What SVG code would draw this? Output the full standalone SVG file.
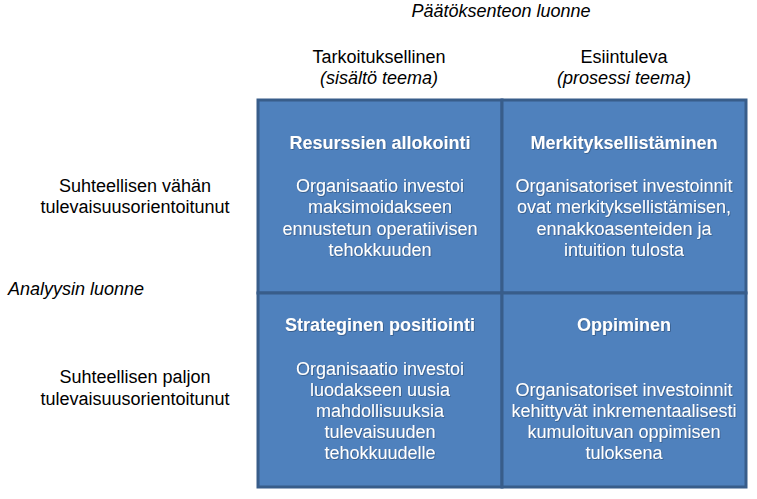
<svg xmlns="http://www.w3.org/2000/svg" width="757" height="499" viewBox="0 0 757 499">
<defs>
<filter id="sh" x="-5%" y="-20%" width="110%" height="140%">
<feDropShadow dx="0.7" dy="0.7" stdDeviation="0.3" flood-color="#1f3550" flood-opacity="0.6"/>
</filter>
<style>
text{font-family:"Liberation Sans",Arial,sans-serif;font-size:18px;}
.lab{fill:#000;text-anchor:middle;}
.it{font-style:italic;}
.cell{fill:#4F81BD;stroke:#385D8A;stroke-width:3;}
.t{fill:#fff;text-anchor:middle;font-weight:bold;filter:url(#sh);}
.b{fill:#fff;text-anchor:middle;filter:url(#sh);}
</style>
</defs>
<rect width="757" height="499" fill="#fff"/>
<g id="labels">
<text class="lab it" x="501" y="17">Päätöksenteon luonne</text>
<text class="lab" x="379" y="63">Tarkoituksellinen</text>
<text class="lab it" x="379" y="84">(sisältö teema)</text>
<text class="lab" x="624" y="63">Esiintuleva</text>
<text class="lab it" x="624" y="84">(prosessi teema)</text>
<text class="lab" x="135" y="192">Suhteellisen vähän</text>
<text class="lab" x="135" y="213">tulevaisuusorientoitunut</text>
<text class="it" x="8" y="295">Analyysin luonne</text>
<text class="lab" x="135" y="383">Suhteellisen paljon</text>
<text class="lab" x="135" y="405">tulevaisuusorientoitunut</text>
</g>
<g id="cell-resurssien">
<rect class="cell" x="258" y="100" width="244" height="193"/>
<text class="t" x="380" y="149">Resurssien allokointi</text>
<text class="b" x="380" y="192">Organisaatio investoi</text>
<text class="b" x="380" y="213">maksimoidakseen</text>
<text class="b" x="380" y="234.5">ennustetun operatiivisen</text>
<text class="b" x="380" y="256">tehokkuuden</text>
</g>
<g id="cell-merkitys">
<rect class="cell" x="502" y="100" width="244" height="193"/>
<text class="t" x="624" y="149">Merkityksellistäminen</text>
<text class="b" x="624" y="192">Organisatoriset investoinnit</text>
<text class="b" x="624" y="213">ovat merkityksellistämisen,</text>
<text class="b" x="624" y="234.5">ennakkoasenteiden ja</text>
<text class="b" x="624" y="256">intuition tulosta</text>
</g>
<g id="cell-strateginen">
<rect class="cell" x="258" y="293" width="244" height="194"/>
<text class="t" x="380" y="331">Strateginen positiointi</text>
<text class="b" x="380" y="374.5">Organisaatio investoi</text>
<text class="b" x="380" y="395.5">luodakseen uusia</text>
<text class="b" x="380" y="416.5">mahdollisuuksia</text>
<text class="b" x="380" y="437.5">tulevaisuuden</text>
<text class="b" x="380" y="458.5">tehokkuudelle</text>
</g>
<g id="cell-oppiminen">
<rect class="cell" x="502" y="293" width="244" height="194"/>
<text class="t" x="624" y="331">Oppiminen</text>
<text class="b" x="624" y="396">Organisatoriset investoinnit</text>
<text class="b" x="624" y="416.5">kehittyvät inkrementaalisesti</text>
<text class="b" x="624" y="437.5">kumuloituvan oppimisen</text>
<text class="b" x="624" y="458.5">tuloksena</text>
</g>
<g id="connectors"></g>
</svg>
